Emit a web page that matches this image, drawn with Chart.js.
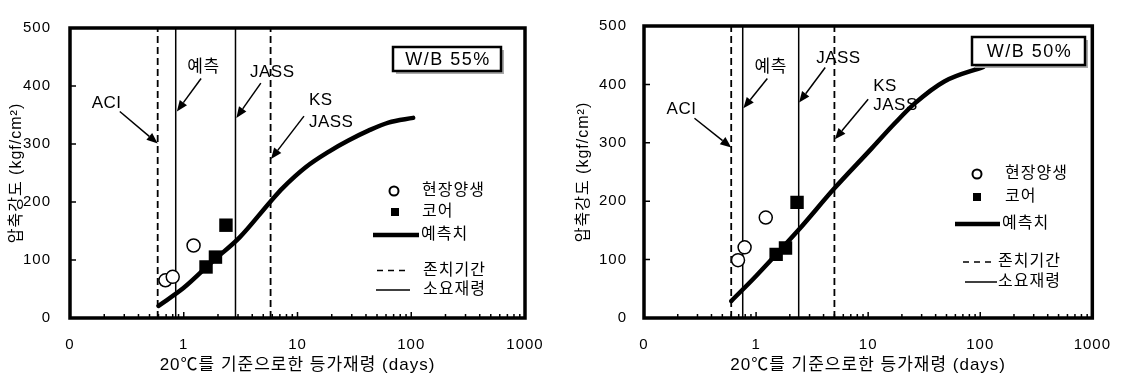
<!DOCTYPE html>
<html>
<head>
<meta charset="utf-8">
<script src="https://cdn.jsdelivr.net/npm/chart.js@4.4.0/dist/chart.umd.min.js"></script>
<style>
  html, body { margin: 0; padding: 0; background: #fff; }
  #wrap { position: relative; width: 1127px; height: 376px; }
  canvas { position: absolute; top: 0; }
</style>
</head>
<body>
<div id="wrap">
  <canvas id="chartWB55" width="563" height="376" style="left:0;width:563px;height:376px"></canvas>
  <canvas id="chartWB50" width="564" height="376" style="left:563px;width:564px;height:376px"></canvas>
</div>
<script>
// axis values
const xTickValues = [0.1, 1, 10, 100, 1000];
const xTickLabels = ['0', '1', '10', '100', '1000'];
const yTickValues = [0, 100, 200, 300, 400, 500];

// W/B 55%
const wb55CurveDays = [0.6, 1.0, 1.8, 3.1, 5.8, 7.4, 11.8, 18.9, 28, 42, 63, 104];
const wb55CurveStrength = [21, 52, 98, 139, 201, 224, 260, 287, 306, 323, 337, 345];
const wb55FieldDays = [0.69, 0.80, 1.22];
const wb55FieldStrength = [65, 71, 125];
const wb55CoreDays = [1.57, 1.90, 2.35];
const wb55CoreStrength = [88, 105, 160];
const wb55CuringDays = [0.59, 5.8];    // 존치기간: ACI, KS/JASS
const wb55RequiredDays = [0.85, 2.85]; // 소요재령: 예측, JASS

// W/B 50%
const wb50CurveDays = [0.6, 1.0, 2.4, 5.0, 10.7, 17.2, 25.9, 47.8, 107];
const wb50CurveStrength = [29, 72, 151, 222, 290, 333, 367, 405, 430];
const wb50FieldDays = [0.69, 0.79, 1.22];
const wb50FieldStrength = [99, 121, 172];
const wb50CoreDays = [1.51, 1.83, 2.32];
const wb50CoreStrength = [109, 120, 198];
const wb50CuringDays = [0.6, 5.0];
const wb50RequiredDays = [0.76, 2.4];

const FONT = "'Liberation Sans', 'Noto Sans CJK KR', sans-serif";

function pairs(xs, ys) {
    return xs.map((v, i) => ({ x: v, y: ys[i] }));
}

function arrow(ctx, x1, y1, x2, y2) {
    const a = Math.atan2(y2 - y1, x2 - x1), L = 11, W = 4.5;
    const bx = x2 - L * Math.cos(a), by = y2 - L * Math.sin(a);
    ctx.lineWidth = 1.5;
    ctx.beginPath();
    ctx.moveTo(x1, y1);
    ctx.lineTo(bx, by);
    ctx.stroke();
    ctx.beginPath();
    ctx.moveTo(x2, y2);
    ctx.lineTo(bx - W * Math.sin(a), by + W * Math.cos(a));
    ctx.lineTo(bx + W * Math.sin(a), by - W * Math.cos(a));
    ctx.closePath();
    ctx.fill();
}

// frame, inward ticks, arrows, legend and W/B box
const decorPlugin = {
    id: 'decor',
    beforeDraw(chart) {
        // scanned original has slightly spaced type
        chart.ctx.letterSpacing = '1px';
    },
    afterDatasetsDraw(chart, args, opts) {
        const { ctx, chartArea: ca, scales: { x, y } } = chart;
        ctx.save();
        ctx.strokeStyle = '#000';
        ctx.fillStyle = '#000';

        // small inward ticks
        ctx.lineWidth = 1.5;
        ctx.beginPath();
        [0.1, 1, 10, 100].forEach(d => {
            for (let m = 1; m <= 9; m++) {
                const px = x.getPixelForValue(d * m);
                ctx.moveTo(px, ca.bottom);
                ctx.lineTo(px, ca.bottom - (m === 1 ? 6 : 4));
            }
        });
        yTickValues.slice(1, -1).forEach(v => {
            const py = y.getPixelForValue(v);
            ctx.moveTo(ca.left, py);
            ctx.lineTo(ca.left + 6, py);
        });
        ctx.stroke();

        // frame
        ctx.lineWidth = 3.5;
        ctx.strokeRect(ca.left, ca.top, ca.right - ca.left, ca.bottom - ca.top);

        // notes + arrows (data coords)
        ctx.letterSpacing = '0.5px';
        ctx.font = '17px ' + FONT;
        ctx.textBaseline = 'middle';
        opts.notes.forEach(n => {
            ctx.textAlign = n.align || 'center';
            ctx.fillText(n.text, x.getPixelForValue(n.at[0]), y.getPixelForValue(n.at[1]));
        });
        opts.arrows.forEach(a => {
            arrow(ctx,
                x.getPixelForValue(a.from[0]), y.getPixelForValue(a.from[1]),
                x.getPixelForValue(a.to[0]), y.getPixelForValue(a.to[1]));
        });

        // legend (offsets from chart area)
        ctx.letterSpacing = '1px';
        ctx.font = '16px ' + FONT;
        ctx.textAlign = 'left';
        opts.legend.forEach(r => {
            const ry = ca.top + r.y;
            if (r.kind === 'circle') {
                ctx.lineWidth = 2;
                ctx.beginPath();
                ctx.arc(ca.left + r.x1, ry, 4.5, 0, Math.PI * 2);
                ctx.stroke();
            } else if (r.kind === 'square') {
                ctx.fillRect(ca.left + r.x1 - 4, ry - 4, 8, 8);
            } else {
                ctx.lineWidth = r.kind === 'thick' ? 4.5 : 1.5;
                ctx.setLineDash(r.kind === 'dash' ? [6, 5] : []);
                ctx.beginPath();
                ctx.moveTo(ca.left + r.x1, ry);
                ctx.lineTo(ca.left + r.x2, ry);
                ctx.stroke();
                ctx.setLineDash([]);
            }
            ctx.fillText(r.label, ca.left + r.textX, ry);
        });

        // W/B box
        const b = opts.box;
        const bx = ca.left + b.x, by = ca.top + b.y;
        ctx.fillStyle = '#aaa';
        ctx.fillRect(bx + 3, by + 3, b.w, b.h);
        ctx.fillStyle = '#fff';
        ctx.fillRect(bx, by, b.w, b.h);
        ctx.lineWidth = 2.5;
        ctx.strokeRect(bx, by, b.w, b.h);
        ctx.fillStyle = '#000';
        ctx.letterSpacing = '1.5px';
        ctx.font = '18px ' + FONT;
        ctx.textAlign = 'center';
        ctx.fillText(b.text, bx + b.w / 2 + 1, by + b.h / 2 + 1);

        ctx.restore();
    }
};

function buildChart(canvasId, s, layout) {
    const datasets = [
        {
            data: pairs(s.fieldDays, s.fieldStrength), showLine: false, order: 0,
            pointStyle: 'circle', pointRadius: 6.5, borderWidth: 1.5,
            borderColor: '#000', backgroundColor: '#fff'
        },
        {
            data: pairs(s.coreDays, s.coreStrength), showLine: false, order: 1,
            pointStyle: 'rect', pointRadius: 9.5, borderWidth: 0,
            borderColor: '#000', backgroundColor: '#000'
        },
        {
            data: pairs(s.curveDays, s.curveStrength), order: 2,
            borderColor: '#000', borderWidth: 4.5, pointRadius: 0,
            cubicInterpolationMode: 'monotone', borderCapStyle: 'round'
        }
    ];
    s.curingDays.forEach(d => datasets.push({
        data: [{ x: d, y: 0 }, { x: d, y: 500 }], order: 3,
        borderColor: '#000', borderWidth: 1.8, borderDash: [7, 4], pointRadius: 0
    }));
    s.requiredDays.forEach(d => datasets.push({
        data: [{ x: d, y: 0 }, { x: d, y: 500 }], order: 3,
        borderColor: '#000', borderWidth: 1.5, pointRadius: 0
    }));

    return new Chart(document.getElementById(canvasId), {
        type: 'line',
        data: { datasets: datasets },
        plugins: [decorPlugin],
        options: {
            responsive: false,
            animation: false,
            devicePixelRatio: 1,
            events: [],
            layout: { padding: { top: 14, right: layout.padRight, left: 0, bottom: 0 } },
            scales: {
                x: {
                    type: 'logarithmic', min: 0.1, max: 1000,
                    afterBuildTicks: sc => { sc.ticks = xTickValues.map(v => ({ value: v })); },
                    afterFit: sc => { sc.height = 58; },
                    grid: { display: false, drawTicks: false },
                    border: { display: false },
                    ticks: {
                        autoSkip: false, maxRotation: 0, padding: 18, color: '#000',
                        font: { family: FONT, size: 15 },
                        callback: (v, i) => xTickLabels[i]
                    },
                    title: {
                        display: true, text: '20℃를 기준으로한 등가재령 (days)', color: '#000',
                        font: { family: FONT, size: 17 }, padding: { top: 0, bottom: 0 }
                    }
                },
                y: {
                    min: 0, max: 500,
                    afterBuildTicks: sc => { sc.ticks = yTickValues.map(v => ({ value: v })); },
                    afterFit: sc => { sc.width = layout.yWidth; },
                    grid: { display: false, drawTicks: false },
                    border: { display: false },
                    ticks: {
                        padding: layout.yPad, color: '#000',
                        font: { family: FONT, size: 15 }
                    },
                    title: {
                        display: true, text: '압축강도 (kgf/cm²)', color: '#000',
                        font: { family: FONT, size: 16 }, padding: { top: layout.yTitlePad, bottom: 0 }
                    }
                }
            },
            plugins: {
                legend: { display: false },
                tooltip: { enabled: false },
                decor: {
                    notes: layout.notes,
                    arrows: layout.arrows,
                    legend: layout.legend,
                    box: layout.box
                }
            }
        }
    });
}

buildChart('chartWB55', {
    curveDays: wb55CurveDays, curveStrength: wb55CurveStrength,
    fieldDays: wb55FieldDays, fieldStrength: wb55FieldStrength,
    coreDays: wb55CoreDays, coreStrength: wb55CoreStrength,
    curingDays: wb55CuringDays, requiredDays: wb55RequiredDays
}, {
    padRight: 38, yWidth: 70, yPad: 19, yTitlePad: 7,
    notes: [
        { text: 'ACI', at: [0.21, 370] },
        { text: '예측', at: [1.49, 433] },
        { text: 'JASS', at: [6.0, 424] },
        { text: 'KS', at: [12.6, 375], align: 'left' },
        { text: 'JASS', at: [12.6, 337], align: 'left' }
    ],
    arrows: [
        { from: [0.274, 356], to: [0.59, 301] },
        { from: [1.42, 413], to: [0.87, 356] },
        { from: [4.76, 405], to: [2.9, 345] },
        { from: [11.4, 348], to: [5.85, 274] }
    ],
    legend: [
        { kind: 'circle', label: '현장양생', y: 163, x1: 324, textX: 352 },
        { kind: 'square', label: '코어', y: 184, x1: 325, textX: 352 },
        { kind: 'thick', label: '예측치', y: 207, x1: 303, x2: 349, textX: 351 },
        { kind: 'dash', label: '존치기간', y: 242.5, x1: 307, x2: 339, textX: 353 },
        { kind: 'thin', label: '소요재령', y: 262, x1: 306, x2: 340, textX: 353 }
    ],
    box: { text: 'W/B 55%', x: 323, y: 19, w: 108, h: 24 }
});

buildChart('chartWB50', {
    curveDays: wb50CurveDays, curveStrength: wb50CurveStrength,
    fieldDays: wb50FieldDays, fieldStrength: wb50FieldStrength,
    coreDays: wb50CoreDays, coreStrength: wb50CoreStrength,
    curingDays: wb50CuringDays, requiredDays: wb50RequiredDays
}, {
    padRight: 30, yWidth: 81, yPad: 17, yTitlePad: 11,
    notes: [
        { text: 'ACI', at: [0.216, 358] },
        { text: '예측', at: [1.35, 429] },
        { text: 'JASS', at: [5.43, 445] },
        { text: 'KS', at: [11.1, 396.5], align: 'left' },
        { text: 'JASS', at: [11.1, 363.5], align: 'left' }
    ],
    arrows: [
        { from: [0.282, 342], to: [0.6, 292] },
        { from: [1.26, 410], to: [0.77, 359] },
        { from: [4.14, 429], to: [2.42, 369] },
        { from: [10, 374.5], to: [5.05, 306] }
    ],
    legend: [
        { kind: 'circle', label: '현장양생', y: 148, x1: 333, textX: 361 },
        { kind: 'square', label: '코어', y: 171, x1: 333, textX: 361 },
        { kind: 'thick', label: '예측치', y: 198, x1: 311, x2: 356, textX: 358 },
        { kind: 'dash', label: '존치기간', y: 236, x1: 319, x2: 349, textX: 354 },
        { kind: 'thin', label: '소요재령', y: 256, x1: 321, x2: 353, textX: 354 }
    ],
    box: { text: 'W/B 50%', x: 328, y: 11, w: 113, h: 28 }
});
</script>
</body>
</html>
